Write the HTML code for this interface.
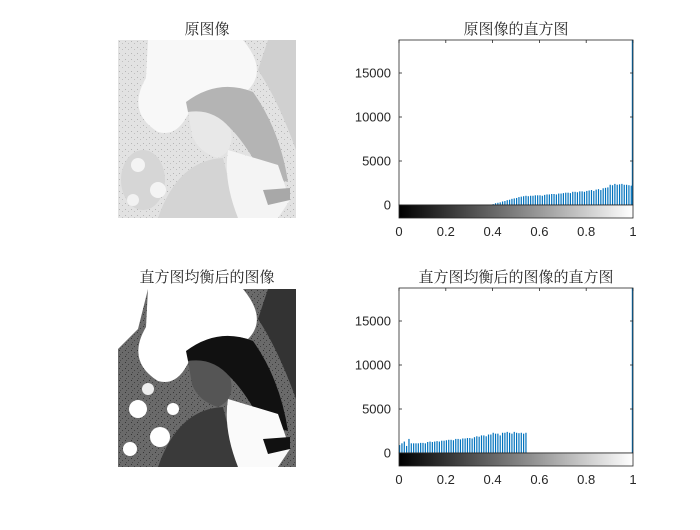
<!DOCTYPE html>
<html><head><meta charset="utf-8"><style>
body{margin:0;background:#fff;}
svg text{font-family:"Liberation Sans","Noto Sans CJK SC",sans-serif;fill:#262626;}
svg text.ttl{font-family:"Liberation Serif","Noto Serif CJK SC",serif;}
</style></head><body>
<svg width="700" height="525" xmlns="http://www.w3.org/2000/svg">
<defs>
<linearGradient id="cb" x1="0" x2="1" y1="0" y2="0"><stop offset="0" stop-color="#000"/><stop offset="1" stop-color="#fff"/></linearGradient>
<pattern id="noise" width="6" height="6" patternUnits="userSpaceOnUse"><rect x="1" y="1" width="1" height="1" fill="#000" opacity="0.5"/><rect x="4" y="3" width="1" height="1" fill="#000" opacity="0.4"/><rect x="2" y="5" width="1" height="1" fill="#000" opacity="0.3"/></pattern>
<pattern id="noise2" width="6" height="6" patternUnits="userSpaceOnUse"><rect x="1" y="1" width="1" height="1" fill="#000" opacity="0.2"/><rect x="4" y="3" width="1" height="1" fill="#000" opacity="0.15"/></pattern>
</defs>
<rect width="700" height="525" fill="#fff"/>

<g transform="translate(118,40)">
<rect width="178" height="178" fill="#e2e2e2"/>
<rect width="178" height="178" fill="url(#noise2)"/>
<ellipse cx="25" cy="140" rx="22" ry="30" fill="#d6d6d6"/>
<circle cx="20" cy="125" r="7" fill="#f4f4f4"/><circle cx="40" cy="150" r="8" fill="#f4f4f4"/><circle cx="15" cy="160" r="6" fill="#f2f2f2"/>
<path d="M150,0 L178,0 L178,110 Q160,60 140,30 Z" fill="#d0d0d0"/>
<path d="M30,0 L125,0 Q150,30 130,50 Q90,40 72,70 Q60,98 40,92 Q8,72 28,38 Z" fill="#f8f8f8"/>
<path d="M68,62 Q100,38 135,52 Q162,90 170,142 L145,135 Q125,100 112,88 Q95,70 70,72 Z" fill="#b4b4b4"/>
<path d="M70,72 Q95,68 112,88 Q118,110 100,118 Q80,112 74,95 Z" fill="#e8e8e8"/>
<path d="M40,178 Q60,120 105,118 L120,178 Z" fill="#d4d4d4"/>
<path d="M110,110 L160,125 L172,160 L160,178 L120,178 Q105,140 110,110 Z" fill="#f4f4f4"/>
<path d="M145,150 L172,148 L172,160 L150,165 Z" fill="#a8a8a8"/>
</g>

<g transform="translate(118,289)">
<rect width="178" height="178" fill="#6a6a6a"/>
<rect width="178" height="178" fill="url(#noise)"/>
<circle cx="20" cy="120" r="9" fill="#fff"/><circle cx="42" cy="148" r="10" fill="#fff"/><circle cx="12" cy="160" r="7" fill="#fff"/><circle cx="30" cy="100" r="6" fill="#eee"/><circle cx="55" cy="120" r="6" fill="#fff"/>
<path d="M0,0 L30,0 L20,40 L0,60 Z" fill="#fff"/>
<path d="M150,0 L178,0 L178,110 Q160,60 140,30 Z" fill="#333"/>
<path d="M30,0 L125,0 Q150,30 130,50 Q90,40 72,70 Q60,98 40,92 Q8,72 28,38 Z" fill="#fff"/>
<path d="M68,62 Q100,38 135,52 Q162,90 170,142 L145,135 Q125,100 112,88 Q95,70 70,72 Z" fill="#111"/>
<path d="M70,72 Q95,68 112,88 Q118,110 100,118 Q80,112 74,95 Z" fill="#555"/>
<path d="M40,178 Q60,120 105,118 L120,178 Z" fill="#3a3a3a"/>
<path d="M110,110 L160,125 L172,160 L160,178 L120,178 Q105,140 110,110 Z" fill="#fafafa"/>
<path d="M145,150 L172,148 L172,160 L150,165 Z" fill="#111"/>
</g>

<text class="ttl" x="207" y="34" font-size="15" text-anchor="middle">原图像</text>
<text class="ttl" x="207" y="282" font-size="15" text-anchor="middle">直方图均衡后的图像</text>
<text class="ttl" x="516" y="34" font-size="15" text-anchor="middle">原图像的直方图</text>
<text class="ttl" x="516" y="282" font-size="15" text-anchor="middle">直方图均衡后的图像的直方图</text>

<g id="h1"></g>
<g id="h2"></g>
</svg>
<script>
const yTicks=[0,5000,10000,15000];
const xTicks=[0,0.2,0.4,0.6,0.8,1];
const xTickLabels=["0","0.2","0.4","0.6","0.8","1"];
const yMax=18750;
const origX=[0.40,0.41,0.42,0.43,0.44,0.45,0.46,0.47,0.48,0.49,0.50,0.51,0.52,0.53,0.54,0.55,0.56,0.57,0.58,0.59,0.60,0.61,0.62,0.63,0.64,0.65,0.66,0.67,0.68,0.69,0.70,0.71,0.72,0.73,0.74,0.75,0.76,0.77,0.78,0.79,0.80,0.81,0.82,0.83,0.84,0.85,0.86,0.87,0.88,0.89,0.90,0.91,0.92,0.93,0.94,0.95,0.96,0.97,0.98,0.99,1.0];
const origVals=[100,200,250,300,400,450,550,600,700,750,800,900,950,1000,1050,1000,1050,1050,1100,1100,1100,1050,1150,1200,1200,1250,1250,1200,1300,1300,1350,1400,1400,1350,1500,1500,1450,1550,1550,1500,1600,1650,1700,1600,1750,1800,1700,1900,1950,2000,2300,2250,2400,2300,2350,2400,2300,2300,2250,2200,19000];
const eqX=[0.0,0.01,0.02,0.03,0.04,0.05,0.06,0.07,0.08,0.09,0.10,0.11,0.12,0.13,0.14,0.15,0.16,0.17,0.18,0.19,0.20,0.21,0.22,0.23,0.24,0.25,0.26,0.27,0.28,0.29,0.30,0.31,0.32,0.33,0.34,0.35,0.36,0.37,0.38,0.39,0.40,0.41,0.42,0.43,0.44,0.45,0.46,0.47,0.48,0.49,0.50,0.51,0.52,0.53,0.54,1.0];
const eqVals=[900,1100,1300,800,1600,1100,1100,1100,1100,1150,1150,1100,1250,1300,1250,1300,1350,1300,1400,1400,1450,1500,1500,1450,1600,1600,1550,1650,1650,1700,1700,1650,1800,1900,1850,2000,2000,1900,2100,2100,2300,2200,2200,2000,2300,2300,2400,2300,2200,2400,2300,2250,2300,2200,2300,19000];
const NS="http://www.w3.org/2000/svg";
function mk(tag,attrs,parent){const e=document.createElementNS(NS,tag);for(const k in attrs)e.setAttribute(k,attrs[k]);parent.appendChild(e);return e;}
function hist(gid,top,zero,xs,vals){
  const g=document.getElementById(gid);
  const L=399,R=633,W=R-L;
  const xS=v=>L+v*W;
  const yS=v=>zero-(v/yMax)*(zero-top);
  for(let i=0;i<xs.length;i++){
    const x=xS(xs[i]);const y=Math.max(top,yS(vals[i]));
    const b=mk('rect',{x:Math.min(x,R-1.2),y:y,width:1.2,height:zero-y,fill:'#0072BD'},g);
    
    
  }
  const box=mk('rect',{x:L,y:top,width:W,height:zero-top,fill:'none',stroke:'#262626','stroke-width':0.8},g);
  
  
  yTicks.forEach(t=>{const y=yS(t);
    mk('line',{x1:L,x2:L+3,y1:y,y2:y,stroke:'#262626','stroke-width':0.8},g);
    mk('line',{x1:R-3,x2:R,y1:y,y2:y,stroke:'#262626','stroke-width':0.8},g);
    const tx=mk('text',{x:L-8,y:y+4.5,'font-size':13,'text-anchor':'end'},g);tx.textContent=t;
    
    
  });
  const cb=mk('rect',{x:L,y:zero,width:W,height:13,fill:'url(#cb)',stroke:'#262626','stroke-width':0.8},g);
  
  
  xTicks.forEach((t,i)=>{const x=xS(t);
    mk('line',{x1:x,x2:x,y1:top,y2:top+3,stroke:'#262626','stroke-width':0.8},g);
    const tx=mk('text',{x:x,y:zero+31,'font-size':13,'text-anchor':'middle'},g);tx.textContent=xTickLabels[i];
    
    
  });
}
hist('h1',40,205,origX,origVals);
hist('h2',288,453,eqX,eqVals);
</script>
</body></html>
